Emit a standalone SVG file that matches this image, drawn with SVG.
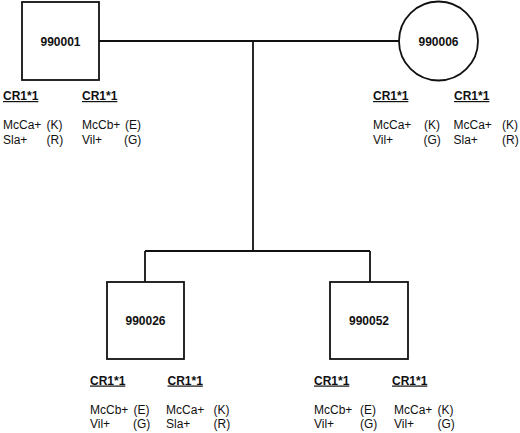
<svg xmlns="http://www.w3.org/2000/svg" width="520" height="433" viewBox="0 0 520 433">
<style>
.shape{fill:#fff;stroke:#111;stroke-width:1.8}
.line{fill:none;stroke:#111;stroke-width:1.8}
text{font-family:"Liberation Sans",Arial,sans-serif;font-size:12px;fill:#111}
.id{font-weight:bold;text-anchor:middle}
.cr{font-weight:bold;text-decoration:underline}
</style>
<rect width="520" height="433" fill="#fff"/>
<g id="connectors">
<path class="line" d="M99,41H399M253,41V251M145,251H370M145,251V282M370,251V282"/>
</g>
<g id="n990001">
<rect class="shape" x="22" y="2" width="77" height="78"/>
<text class="id" x="60.5" y="46">990001</text>
<text class="cr" x="3" y="100">CR1*1</text>
<text class="cr" x="82" y="100">CR1*1</text>
<text x="3" y="129">McCa+</text><text x="46.5" y="129">(K)</text>
<text x="3" y="143.5">Sla+</text><text x="46.5" y="143.5">(R)</text>
<text x="82" y="129">McCb+</text><text x="125" y="129">(E)</text>
<text x="82" y="143.5">Vil+</text><text x="124" y="143.5">(G)</text>
</g>
<g id="n990006">
<circle class="shape" cx="438.5" cy="41" r="39.5"/>
<text class="id" x="438.5" y="46">990006</text>
<text class="cr" x="373" y="100">CR1*1</text>
<text class="cr" x="454" y="100">CR1*1</text>
<text x="373" y="129">McCa+</text><text x="424" y="129">(K)</text>
<text x="373" y="143.5">Vil+</text><text x="423.5" y="143.5">(G)</text>
<text x="453.5" y="129">McCa+</text><text x="502" y="129">(K)</text>
<text x="453.5" y="143.5">Sla+</text><text x="502" y="143.5">(R)</text>
</g>
<g id="n990026">
<rect class="shape" x="107" y="282" width="77" height="77"/>
<text class="id" x="145.5" y="325">990026</text>
<text class="cr" x="90" y="384.5">CR1*1</text>
<text class="cr" x="167.5" y="384.5">CR1*1</text>
<text x="90" y="413.5">McCb+</text><text x="133.5" y="413.5">(E)</text>
<text x="90" y="428">Vil+</text><text x="133" y="428">(G)</text>
<text x="166" y="413.5">McCa+</text><text x="213.5" y="413.5">(K)</text>
<text x="166" y="428">Sla+</text><text x="213.5" y="428">(R)</text>
</g>
<g id="n990052">
<rect class="shape" x="330" y="282" width="78" height="77"/>
<text class="id" x="369" y="325">990052</text>
<text class="cr" x="314" y="384.5">CR1*1</text>
<text class="cr" x="392" y="384.5">CR1*1</text>
<text x="314" y="413.5">McCb+</text><text x="360" y="413.5">(E)</text>
<text x="314" y="428">Vil+</text><text x="360" y="428">(G)</text>
<text x="394" y="413.5">McCa+</text><text x="437.5" y="413.5">(K)</text>
<text x="394" y="428">Vil+</text><text x="437.5" y="428">(G)</text>
</g>
</svg>
